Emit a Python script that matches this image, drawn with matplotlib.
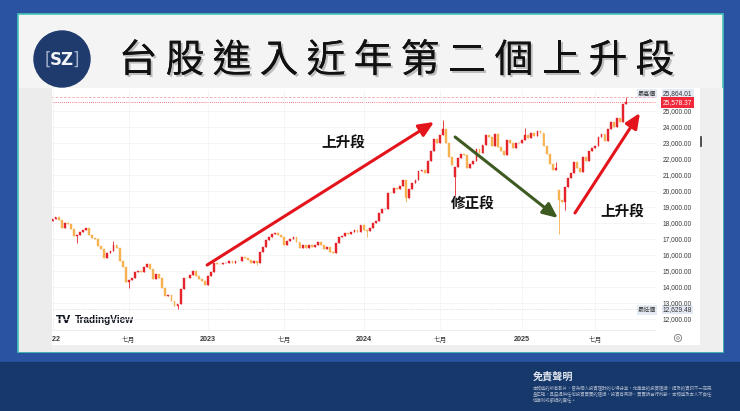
import numpy as np
import matplotlib
matplotlib.use('Agg')
import matplotlib.pyplot as plt
from matplotlib.patches import Rectangle, Circle
import matplotlib.patheffects as pe

plt.rcParams['font.family'] = ['Noto Sans CJK TC', 'DejaVu Sans']

W, H = 740, 411

# weekly closes (TAIEX)
close_2022 = [18250, 18400, 18200, 17700, 18000, 17950, 17650, 17200, 17260, 17430,
              17550, 17700, 17280, 17090, 16990, 16590, 16400, 15830, 16150, 16270,
              16610, 16460, 15640, 15240, 14340, 14460, 14550, 14920, 15000, 14920,
              15230, 15410, 15110, 14500, 14810, 14540, 13920, 13420, 13480, 13100,
              12800, 12950, 13900, 14550, 14540, 14780, 14980, 14700, 14530, 14400,
              14140]
close_2023 = [14700, 14950, 15500, 15450, 15430, 15500, 15520, 15600, 15470, 15650,
              15600, 15870, 15800, 15700, 15500, 15600, 15500, 16200, 16500, 16950,
              17150, 17300, 17400, 17250, 17100, 16600, 16900, 17000, 17100, 16800,
              16450, 16600, 16450, 16600, 16500, 16650, 16800, 16600, 16350, 16500,
              16200, 16100, 16750, 17100, 17200, 17370, 17300, 17440, 17550, 17450,
              17900]
close_2024 = [17550, 17500, 17680, 18000, 18100, 18600, 18850, 18900, 19900, 19850,
              20200, 20150, 20300, 20700, 19550, 20100, 20500, 20700, 21250, 21300,
              21150, 21850, 22500, 23250, 23000, 23500, 23900, 23000, 22150, 21650,
              21470, 22050, 22300, 22270, 21430, 21700, 21900, 22600, 22400, 22900,
              23490, 23350, 22800, 23550, 22750, 22500, 22260, 23190, 23000, 22690,
              23000, 23030]
close_2025 = [23200, 23500, 23300, 23600, 23450, 23750, 23600, 22800, 22300, 21700,
              21300, 21450, 19450, 19300, 20250, 20800, 21100, 21800, 21450, 21200,
              22100, 21850, 22500, 22700, 22800, 23400, 23550, 23100, 23900, 24300,
              24000, 24550, 24300, 25450, 25578.37]
first_open = 18150
gap_opens = {132: 20880, 166: 20050}
wick_highs = {20: 16850, 128: 24416, 155: 23950, 165: 21800, 188: 25864.01}
wick_lows = {8: 16750, 25: 13930, 41: 12629.48, 67: 15350, 103: 17120,
             116: 19300, 132: 19662, 166: 17306, 168: 18800}

high_price = 25864.01
low_price = 12629.48
last_price = 25578.37
price_ticks = list(range(12000, 25001, 1000))
time_tick_idx = [0, 25, 51, 76, 102, 127, 154, 178]
time_tick_labels = ['2022', '七月', '2023', '七月', '2024', '七月', '2025', '七月']

title = '台股進入近年第二個上升段'

closes = np.array(close_2022 + close_2023 + close_2024 + close_2025, dtype=float)
n = len(closes)
idx = np.arange(n)
opens = np.concatenate([[first_open], closes[:-1]])
for k, v in gap_opens.items():
    opens[k] = v
highs = np.maximum(opens, closes)
lows = np.minimum(opens, closes)
for k, v in wick_highs.items():
    highs[k] = max(highs[k], v)
for k, v in wick_lows.items():
    lows[k] = min(lows[k], v)
up = closes >= opens
colors = np.where(up, '#e5232b', '#f6b150')

fig = plt.figure(figsize=(7.4, 4.11), dpi=100)


def px_box(x0, y0, x1, y1):
    return [x0 / W, 1 - y1 / H, (x1 - x0) / W, (y1 - y0) / H]


# slide background
bg = fig.add_axes([0, 0, 1, 1])
bg.set_xlim(0, W)
bg.set_ylim(H, 0)
bg.axis('off')
bg.add_patch(Rectangle((0, 0), W, 362, color='#2a54a1'))
bg.add_patch(Rectangle((0, 362), W, 49, color='#17386a'))
bg.add_patch(Rectangle((18, 14), 705, 338, fc='#f4f4f5', ec='#46c3b5', lw=1.2))
bg.add_patch(Rectangle((700, 88), 22.5, 264, fc='#efefef', ec='none'))
bg.add_patch(Rectangle((52, 345), 648, 6.5, fc='#efefef', ec='none'))
bg.add_patch(Rectangle((52, 88), 648, 257, fc='white', ec='none'))

# logo + title
bg.add_patch(Circle((62, 59), 28, color='#1f3a6c'))
bg.text(48, 60, '[', color='#9fb0cc', fontsize=12, family='DejaVu Sans', ha='center', va='center')
bg.text(62, 60, 'SZ', color='#f2f4f8', fontsize=12, fontweight='bold',
        family='DejaVu Sans', ha='center', va='center')
bg.text(76, 60, ']', color='#9fb0cc', fontsize=12, family='DejaVu Sans', ha='center', va='center')
for k, ch in enumerate(title):
    bg.text(138 + k * 47, 61, ch, fontsize=28, fontweight='light', color='#111111',
            ha='center', va='center',
            path_effects=[pe.withSimplePatchShadow(offset=(1.5, -1.5), shadow_rgbFace='#888888', alpha=0.5),
                          pe.Normal()])

# price axis extras
lbl_box = dict(boxstyle='square,pad=0.15', fc='#e4eaf4', ec='none')
bg.text(647, 93.5, '最高價', fontsize=4.4, color='#333333', ha='center', va='center', bbox=lbl_box)
bg.text(663, 93.5, f'{high_price:,.2f}', fontsize=4.8, family='Liberation Sans', color='#333333',
        ha='left', va='center', bbox=lbl_box)
bg.text(663, 102.3, f'{last_price:,.2f}', fontsize=4.8, family='Liberation Sans', color='white',
        ha='left', va='center', bbox=dict(boxstyle='square,pad=0.3', fc='#f0283a', ec='none'))
bg.text(647, 309.8, '最低價', fontsize=4.4, color='#333333', ha='center', va='center', bbox=lbl_box)
bg.text(663, 309.8, f'{low_price:,.2f}', fontsize=4.8, family='Liberation Sans', color='#333333',
        ha='left', va='center', bbox=lbl_box)
bg.add_patch(Circle((678, 338), 3.6, fc='none', ec='#777777', lw=0.6))
bg.add_patch(Circle((678, 338), 1.3, fc='none', ec='#777777', lw=0.5))
bg.plot([701, 701], [137, 146], color='#333333', lw=1.2)
bg.text(56, 320, 'TV', fontsize=7.5, fontweight='heavy', family='DejaVu Sans',
        color='#131722', ha='left', va='center')
bg.text(75, 320, 'TradingView', fontsize=7.2, fontweight='bold', family='Liberation Sans',
        color='#131722', ha='left', va='center')

# disclaimer
bg.text(533, 377, '免責聲明', fontsize=7.3, fontweight='bold', color='#dfe5ef', ha='left', va='center')
disclaimer = ['本頻道的所有影片，皆為個人投資理財的心得分享，非專業的投資建議，提及的資訊不一定完',
              '全正確，且無提供任何投資買賣的建議，投資有風險，買賣請自行判斷，本頻道及本人不負任',
              '何獲利或虧損的責任。']
for k, line in enumerate(disclaimer):
    bg.text(533, 389 + k * 5.6, line, fontsize=3.2, color='#a9b5cb', ha='left', va='center')

# candlestick chart
ax = fig.add_axes(px_box(51, 90, 656, 330))
ax.set_facecolor('none')
ax.vlines(idx, lows, highs, color=colors, lw=0.6, zorder=2)
ax.bar(idx, np.abs(closes - opens), bottom=np.minimum(opens, closes), width=0.62,
       color=colors, edgecolor=colors, lw=0.3, zorder=3)
ax.axhline(high_price, color='#f2a3a8', lw=0.6, ls=(0, (3, 2)), zorder=1)
ax.axhline(last_price, color='#ee4452', lw=0.6, ls=(0, (1, 1.5)), zorder=1)
ax.axhline(low_price, color='#c9ccd2', lw=0.5, ls=(0, (1, 1.5)), zorder=1)

ax.set_xlim((51 - 52.5) / 3.05, (656 - 52.5) / 3.05)
ax.set_ylim(25000 - (330 - 111) * 62.5, 25000 - (90 - 111) * 62.5)
ax.yaxis.tick_right()
ax.set_yticks(price_ticks)
ax.set_yticklabels([f'{p:,.2f}' for p in price_ticks], family='Liberation Sans', fontsize=4.8, color='#3a3a3a')
ax.set_xticks(time_tick_idx)
ax.set_xticklabels(time_tick_labels, fontsize=4.8, color='#3a3a3a')
for t in ax.get_xticklabels():
    if t.get_text().isdigit():
        t.set_fontweight('bold')
        t.set_family('Liberation Sans')
        t.set_fontsize(5.2)
ax.tick_params(axis='y', length=0, pad=5)
ax.tick_params(axis='x', length=0, pad=4)
ax.grid(True, color='#f1f1f1', lw=0.5, zorder=0)
for s in ['top', 'left', 'right']:
    ax.spines[s].set_visible(False)
ax.spines['bottom'].set_color('#e6e6e6')
ax.spines['bottom'].set_linewidth(0.5)

# trend arrows and labels
arrows = [((50.7, 15375), (125.1, 24312), '#e3141b'),
          ((132.0, 23375), (165.7, 18312), '#3d5a21'),
          ((171.3, 18625), (192.6, 24875), '#e3141b')]
for start, end, c in arrows:
    ax.annotate('', xy=end, xytext=start,
                arrowprops=dict(arrowstyle='-|>,head_length=0.9,head_width=0.4',
                                color=c, lw=2.2, shrinkA=0, shrinkB=0), zorder=6)
ax.text(95.2, 23000, '上升段', fontsize=10.5, fontweight='bold', ha='center', va='center', color='#111111')
ax.text(137.9, 19190, '修正段', fontsize=10.5, fontweight='bold', ha='center', va='center', color='#111111')
ax.text(186.7, 18690, '上升段', fontsize=10.5, fontweight='bold', ha='center', va='center', color='#111111')

# gray strip on the left of the chart panel
fig.add_artist(Rectangle((18.6 / W, 1 - 351.5 / H), 33.4 / W, 263.5 / H,
                         transform=fig.transFigure, fc='#ececec', ec='none', zorder=5))

fig.savefig('out.png', dpi=100)
